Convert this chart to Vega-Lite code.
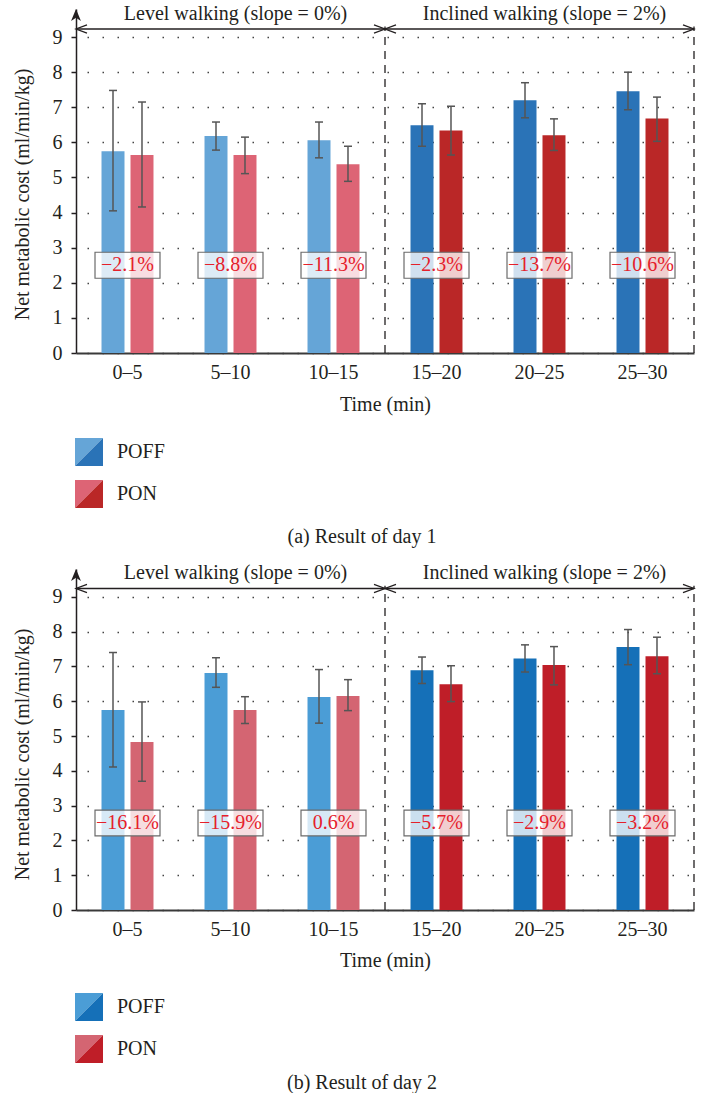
{
  "$schema": "https://vega.github.io/schema/vega-lite/v6.json",
  "padding": {"left": 12, "top": 3, "right": 0, "bottom": 0},
  "background": "white",
  "spacing": 16,
  "config": {
    "view": {"stroke": null},
    "font": "Liberation Serif",
    "axis": {"labelFont": "Liberation Serif", "labelFontSize": 20, "labelColor": "#231f20", "titleFont": "Liberation Serif", "titleFontSize": 20, "titleFontWeight": "normal", "titleColor": "#231f20"},
    "axisY": {"tickCount": 10, "labelOverlap": false},
    "legend": {"labelFont": "Liberation Serif", "labelFontSize": 20, "labelColor": "#231f20"}
  },
  "datasets": {
    "day1": [
      {"time": "0–5", "series": "POFF", "section": "level", "value": 5.75, "lo": 4.05, "hi": 7.48},
      {"time": "0–5", "series": "PON", "section": "level", "value": 5.64, "lo": 4.16, "hi": 7.15},
      {"time": "5–10", "series": "POFF", "section": "level", "value": 6.18, "lo": 5.78, "hi": 6.58},
      {"time": "5–10", "series": "PON", "section": "level", "value": 5.64, "lo": 5.11, "hi": 6.15},
      {"time": "10–15", "series": "POFF", "section": "level", "value": 6.06, "lo": 5.56, "hi": 6.58},
      {"time": "10–15", "series": "PON", "section": "level", "value": 5.38, "lo": 4.89, "hi": 5.89},
      {"time": "15–20", "series": "POFF", "section": "inclined", "value": 6.49, "lo": 5.89, "hi": 7.10},
      {"time": "15–20", "series": "PON", "section": "inclined", "value": 6.34, "lo": 5.64, "hi": 7.03},
      {"time": "20–25", "series": "POFF", "section": "inclined", "value": 7.20, "lo": 6.70, "hi": 7.70},
      {"time": "20–25", "series": "PON", "section": "inclined", "value": 6.20, "lo": 5.77, "hi": 6.67},
      {"time": "25–30", "series": "POFF", "section": "inclined", "value": 7.46, "lo": 6.93, "hi": 8.00},
      {"time": "25–30", "series": "PON", "section": "inclined", "value": 6.68, "lo": 6.03, "hi": 7.29}
    ],
    "day1pct": [
      {"time": "0–5", "pct": "−2.1%"},
      {"time": "5–10", "pct": "−8.8%"},
      {"time": "10–15", "pct": "−11.3%"},
      {"time": "15–20", "pct": "−2.3%"},
      {"time": "20–25", "pct": "−13.7%"},
      {"time": "25–30", "pct": "−10.6%"}
    ],
    "day2": [
      {"time": "0–5", "series": "PON", "section": "level", "value": 4.83, "lo": 3.70, "hi": 5.98},
      {"time": "0–5", "series": "POFF", "section": "level", "value": 5.75, "lo": 4.11, "hi": 7.40},
      {"time": "5–10", "series": "PON", "section": "level", "value": 5.75, "lo": 5.36, "hi": 6.13},
      {"time": "5–10", "series": "POFF", "section": "level", "value": 6.81, "lo": 6.40, "hi": 7.25},
      {"time": "10–15", "series": "PON", "section": "level", "value": 6.15, "lo": 5.73, "hi": 6.62},
      {"time": "10–15", "series": "POFF", "section": "level", "value": 6.12, "lo": 5.37, "hi": 6.91},
      {"time": "15–20", "series": "PON", "section": "inclined", "value": 6.49, "lo": 5.99, "hi": 7.02},
      {"time": "15–20", "series": "POFF", "section": "inclined", "value": 6.89, "lo": 6.51, "hi": 7.27},
      {"time": "20–25", "series": "PON", "section": "inclined", "value": 7.04, "lo": 6.47, "hi": 7.57},
      {"time": "20–25", "series": "POFF", "section": "inclined", "value": 7.23, "lo": 6.84, "hi": 7.62},
      {"time": "25–30", "series": "PON", "section": "inclined", "value": 7.29, "lo": 6.79, "hi": 7.84},
      {"time": "25–30", "series": "POFF", "section": "inclined", "value": 7.56, "lo": 7.05, "hi": 8.06}
    ],
    "day2pct": [
      {"time": "0–5", "pct": "−16.1%"},
      {"time": "5–10", "pct": "−15.9%"},
      {"time": "10–15", "pct": "0.6%"},
      {"time": "15–20", "pct": "−5.7%"},
      {"time": "20–25", "pct": "−2.9%"},
      {"time": "25–30", "pct": "−3.2%"}
    ],
    "sections": [
      {"section": "Level walking (slope = 0%)", "start": 0, "end": 15},
      {"section": "Inclined walking (slope = 2%)", "start": 15, "end": 30}
    ]
  },
  "vconcat": [
    {
      "width": 618,
      "height": 344,
      "title": {"text": "(a) Result of day 1", "orient": "bottom", "anchor": "middle", "frame": "group", "dx": -23, "offset": 19, "font": "Liberation Serif", "fontSize": 20, "fontWeight": "normal", "color": "#231f20"},
      "layer": [
        {
          "layer": [
            {
              "data": {"name": "day1"},
              "transform": [{"filter": "datum.section === 'level'"}],
              "mark": {"type": "bar"},
              "encoding": {
                "x": {"field": "time", "type": "nominal", "scale": {"domain": ["0–5", "5–10", "10–15", "15–20", "20–25", "25–30"], "paddingInner": 0, "paddingOuter": 0}, "axis": {"title": "Time (min)", "ticks": false, "labelAngle": 0, "labelPadding": 9, "titlePadding": 12, "domainColor": "#3a3a3a", "domainWidth": 1.8, "grid": false}},
                "xOffset": {"field": "series", "type": "nominal", "scale": {"domain": ["POFF", "PON"], "paddingInner": 0.207, "paddingOuter": 0.88}},
                "y": {"field": "value", "type": "quantitative", "scale": {"domain": [0, 9.8], "nice": false, "zero": true}, "axis": {"title": "Net metabolic cost (ml/min/kg)", "values": [0, 1, 2, 3, 4, 5, 6, 7, 8, 9], "tickCount": 10, "labelOverlap": false, "grid": true, "gridDash": [1.5, 13.5], "gridDashOffset": 4, "gridColor": "#444", "gridWidth": 1.3, "domainColor": "#231f20", "domainWidth": 1.5, "tickColor": "#231f20", "tickSize": 5, "tickWidth": 1.5, "labelPadding": 9, "titlePadding": 20, "titleY": 185}},
                "color": {"field": "series", "type": "nominal", "scale": {"domain": ["POFF", "PON"], "range": ["#65a5d7", "#dd6475"]}, "legend": {"orient": "none", "direction": "vertical", "legendX": -1, "legendY": 429, "title": null, "symbolType": "M-1,-1L1,-1L-1,1Z", "symbolSize": 784, "symbolStrokeWidth": 0, "symbolOpacity": 1, "labelOffset": 14, "rowPadding": 14}}
              }
            },
            {
              "data": {"name": "day1"},
              "transform": [{"filter": "datum.section === 'inclined'"}],
              "mark": {"type": "bar"},
              "encoding": {
                "x": {"field": "time", "type": "nominal"},
                "xOffset": {"field": "series", "type": "nominal"},
                "y": {"field": "value", "type": "quantitative"},
                "color": {"field": "series", "type": "nominal", "scale": {"domain": ["POFF", "PON"], "range": ["#2a73b7", "#ba2727"]}, "legend": {"orient": "none", "direction": "vertical", "legendX": -1, "legendY": 429, "title": null, "symbolType": "M1,-1L1,1L-1,1Z", "symbolSize": 784, "symbolStrokeWidth": 0, "symbolOpacity": 1, "labelOffset": 14, "rowPadding": 14, "labelOpacity": 0}}
              }
            },
            {
              "data": {"name": "day1"},
              "mark": {"type": "rule", "color": "#555555", "strokeWidth": 1.5},
              "encoding": {
                "x": {"field": "time", "type": "nominal"},
                "xOffset": {"field": "series", "type": "nominal"},
                "y": {"field": "lo", "type": "quantitative"},
                "y2": {"field": "hi"}
              }
            },
            {
              "data": {"name": "day1"},
              "transform": [{"fold": ["lo", "hi"], "as": ["end", "v"]}],
              "mark": {"type": "tick", "color": "#555555", "thickness": 1.5, "size": 8, "opacity": 1},
              "encoding": {
                "x": {"field": "time", "type": "nominal"},
                "xOffset": {"field": "series", "type": "nominal"},
                "y": {"field": "v", "type": "quantitative"}
              }
            },
            {
              "data": {"name": "day1pct"},
              "mark": {"type": "bar", "width": {"band": 0.631}, "fill": "white", "fillOpacity": 0.78, "stroke": "#6b6b6b", "strokeWidth": 1.2},
              "encoding": {
                "x": {"field": "time", "type": "nominal"},
                "y": {"datum": 2.13, "type": "quantitative"},
                "y2": {"datum": 2.87}
              }
            },
            {
              "data": {"name": "day1pct"},
              "mark": {"type": "text", "color": "#e5202b", "fontSize": 20, "baseline": "middle", "font": "Liberation Serif"},
              "encoding": {
                "x": {"field": "time", "type": "nominal"},
                "y": {"datum": 2.5, "type": "quantitative"},
                "text": {"field": "pct"}
              }
            }
          ],
          "resolve": {"scale": {"color": "independent"}}
        },
        {
          "data": {"name": "sections"},
          "layer": [
            {
              "mark": {"type": "rule", "color": "#231f20", "strokeWidth": 1.3},
              "encoding": {
                "x": {"field": "start", "type": "quantitative", "scale": {"domain": [0, 30], "nice": false, "zero": false}, "axis": null},
                "x2": {"field": "end"},
                "y": {"datum": 9.23, "type": "quantitative"}
              }
            },
            {
              "mark": {"type": "rule", "color": "#231f20", "strokeWidth": 1.3, "strokeDash": [8, 6]},
              "encoding": {
                "x": {"field": "end", "type": "quantitative", "axis": null},
                "y": {"datum": 0, "type": "quantitative"},
                "y2": {"datum": 9.3}
              }
            },
            {
              "mark": {"type": "point", "shape": "M1,-0.37L0,0L1,0.37", "size": 484, "filled": false, "stroke": "#231f20", "strokeWidth": 1.3, "opacity": 1},
              "encoding": {
                "x": {"field": "start", "type": "quantitative", "axis": null},
                "y": {"datum": 9.23, "type": "quantitative"}
              }
            },
            {
              "mark": {"type": "point", "shape": "M-1,-0.37L0,0L-1,0.37", "size": 484, "filled": false, "stroke": "#231f20", "strokeWidth": 1.3, "opacity": 1},
              "encoding": {
                "x": {"field": "end", "type": "quantitative", "axis": null},
                "y": {"datum": 9.23, "type": "quantitative"}
              }
            },
            {
              "transform": [{"fold": ["start", "end"], "as": ["edge", "t"]}],
              "mark": {"type": "text", "fontSize": 20, "color": "#231f20", "baseline": "alphabetic", "dx": 5, "font": "Liberation Serif"},
              "encoding": {
                "x": {"field": "t", "aggregate": "mean", "type": "quantitative", "axis": null},
                "y": {"datum": 9.5, "type": "quantitative"},
                "text": {"field": "section"}
              }
            },
            {
              "transform": [{"filter": "datum.start === 0"}],
              "mark": {"type": "point", "shape": "M0,0L0.45,1.1L0,0.8L-0.45,1.1Z", "size": 484, "filled": true, "fill": "#231f20", "strokeWidth": 0, "opacity": 1},
              "encoding": {
                "x": {"field": "start", "type": "quantitative", "axis": null},
                "y": {"datum": 9.8, "type": "quantitative"}
              }
            }
          ]
        }
      ],
      "resolve": {"scale": {"x": "independent"}}
    },
    {
      "width": 618,
      "height": 341,
      "title": {"text": "(b) Result of day 2", "orient": "bottom", "anchor": "middle", "frame": "group", "dx": -23, "offset": 10, "font": "Liberation Serif", "fontSize": 20, "fontWeight": "normal", "color": "#231f20"},
      "layer": [
        {
          "layer": [
            {
              "data": {"name": "day2"},
              "transform": [{"filter": "datum.section === 'level'"}],
              "mark": {"type": "bar"},
              "encoding": {
                "x": {"field": "time", "type": "nominal", "scale": {"domain": ["0–5", "5–10", "10–15", "15–20", "20–25", "25–30"], "paddingInner": 0, "paddingOuter": 0}, "axis": {"title": "Time (min)", "ticks": false, "labelAngle": 0, "labelPadding": 9, "titlePadding": 11, "domainColor": "#3a3a3a", "domainWidth": 1.8, "grid": false}},
                "xOffset": {"field": "series", "type": "nominal", "scale": {"domain": ["PON", "POFF"], "paddingInner": 0.207, "paddingOuter": 0.88}},
                "y": {"field": "value", "type": "quantitative", "scale": {"domain": [0, 9.8], "nice": false, "zero": true}, "axis": {"title": "Net metabolic cost (ml/min/kg)", "values": [0, 1, 2, 3, 4, 5, 6, 7, 8, 9], "tickCount": 10, "labelOverlap": false, "grid": true, "gridDash": [1.5, 13.5], "gridDashOffset": 4, "gridColor": "#444", "gridWidth": 1.3, "domainColor": "#231f20", "domainWidth": 1.5, "tickColor": "#231f20", "tickSize": 5, "tickWidth": 1.5, "labelPadding": 9, "titlePadding": 20, "titleY": 185}},
                "color": {"field": "series", "type": "nominal", "scale": {"domain": ["POFF", "PON"], "range": ["#4b9dd6", "#d46572"]}, "legend": {"orient": "none", "direction": "vertical", "legendX": -1, "legendY": 424, "title": null, "symbolType": "M-1,-1L1,-1L-1,1Z", "symbolSize": 784, "symbolStrokeWidth": 0, "symbolOpacity": 1, "labelOffset": 14, "rowPadding": 14}}
              }
            },
            {
              "data": {"name": "day2"},
              "transform": [{"filter": "datum.section === 'inclined'"}],
              "mark": {"type": "bar"},
              "encoding": {
                "x": {"field": "time", "type": "nominal"},
                "xOffset": {"field": "series", "type": "nominal"},
                "y": {"field": "value", "type": "quantitative"},
                "color": {"field": "series", "type": "nominal", "scale": {"domain": ["POFF", "PON"], "range": ["#1570b8", "#bf1e28"]}, "legend": {"orient": "none", "direction": "vertical", "legendX": -1, "legendY": 424, "title": null, "symbolType": "M1,-1L1,1L-1,1Z", "symbolSize": 784, "symbolStrokeWidth": 0, "symbolOpacity": 1, "labelOffset": 14, "rowPadding": 14, "labelOpacity": 0}}
              }
            },
            {
              "data": {"name": "day2"},
              "mark": {"type": "rule", "color": "#555555", "strokeWidth": 1.5},
              "encoding": {
                "x": {"field": "time", "type": "nominal"},
                "xOffset": {"field": "series", "type": "nominal"},
                "y": {"field": "lo", "type": "quantitative"},
                "y2": {"field": "hi"}
              }
            },
            {
              "data": {"name": "day2"},
              "transform": [{"fold": ["lo", "hi"], "as": ["end", "v"]}],
              "mark": {"type": "tick", "color": "#555555", "thickness": 1.5, "size": 8, "opacity": 1},
              "encoding": {
                "x": {"field": "time", "type": "nominal"},
                "xOffset": {"field": "series", "type": "nominal"},
                "y": {"field": "v", "type": "quantitative"}
              }
            },
            {
              "data": {"name": "day2pct"},
              "mark": {"type": "bar", "width": {"band": 0.631}, "fill": "white", "fillOpacity": 0.78, "stroke": "#6b6b6b", "strokeWidth": 1.2},
              "encoding": {
                "x": {"field": "time", "type": "nominal"},
                "y": {"datum": 2.13, "type": "quantitative"},
                "y2": {"datum": 2.87}
              }
            },
            {
              "data": {"name": "day2pct"},
              "mark": {"type": "text", "color": "#e5202b", "fontSize": 20, "baseline": "middle", "font": "Liberation Serif"},
              "encoding": {
                "x": {"field": "time", "type": "nominal"},
                "y": {"datum": 2.5, "type": "quantitative"},
                "text": {"field": "pct"}
              }
            }
          ],
          "resolve": {"scale": {"color": "independent"}}
        },
        {
          "data": {"name": "sections"},
          "layer": [
            {
              "mark": {"type": "rule", "color": "#231f20", "strokeWidth": 1.3},
              "encoding": {
                "x": {"field": "start", "type": "quantitative", "scale": {"domain": [0, 30], "nice": false, "zero": false}, "axis": null},
                "x2": {"field": "end"},
                "y": {"datum": 9.24, "type": "quantitative"}
              }
            },
            {
              "mark": {"type": "rule", "color": "#231f20", "strokeWidth": 1.3, "strokeDash": [8, 6]},
              "encoding": {
                "x": {"field": "end", "type": "quantitative", "axis": null},
                "y": {"datum": 0, "type": "quantitative"},
                "y2": {"datum": 9.32}
              }
            },
            {
              "mark": {"type": "point", "shape": "M1,-0.37L0,0L1,0.37", "size": 484, "filled": false, "stroke": "#231f20", "strokeWidth": 1.3, "opacity": 1},
              "encoding": {
                "x": {"field": "start", "type": "quantitative", "axis": null},
                "y": {"datum": 9.24, "type": "quantitative"}
              }
            },
            {
              "mark": {"type": "point", "shape": "M-1,-0.37L0,0L-1,0.37", "size": 484, "filled": false, "stroke": "#231f20", "strokeWidth": 1.3, "opacity": 1},
              "encoding": {
                "x": {"field": "end", "type": "quantitative", "axis": null},
                "y": {"datum": 9.24, "type": "quantitative"}
              }
            },
            {
              "transform": [{"fold": ["start", "end"], "as": ["edge", "t"]}],
              "mark": {"type": "text", "fontSize": 20, "color": "#231f20", "baseline": "alphabetic", "dx": 5, "font": "Liberation Serif"},
              "encoding": {
                "x": {"field": "t", "aggregate": "mean", "type": "quantitative", "axis": null},
                "y": {"datum": 9.5, "type": "quantitative"},
                "text": {"field": "section"}
              }
            },
            {
              "transform": [{"filter": "datum.start === 0"}],
              "mark": {"type": "point", "shape": "M0,0L0.45,1.1L0,0.8L-0.45,1.1Z", "size": 484, "filled": true, "fill": "#231f20", "strokeWidth": 0, "opacity": 1},
              "encoding": {
                "x": {"field": "start", "type": "quantitative", "axis": null},
                "y": {"datum": 9.8, "type": "quantitative"}
              }
            }
          ]
        }
      ],
      "resolve": {"scale": {"x": "independent"}}
    }
  ]
}
